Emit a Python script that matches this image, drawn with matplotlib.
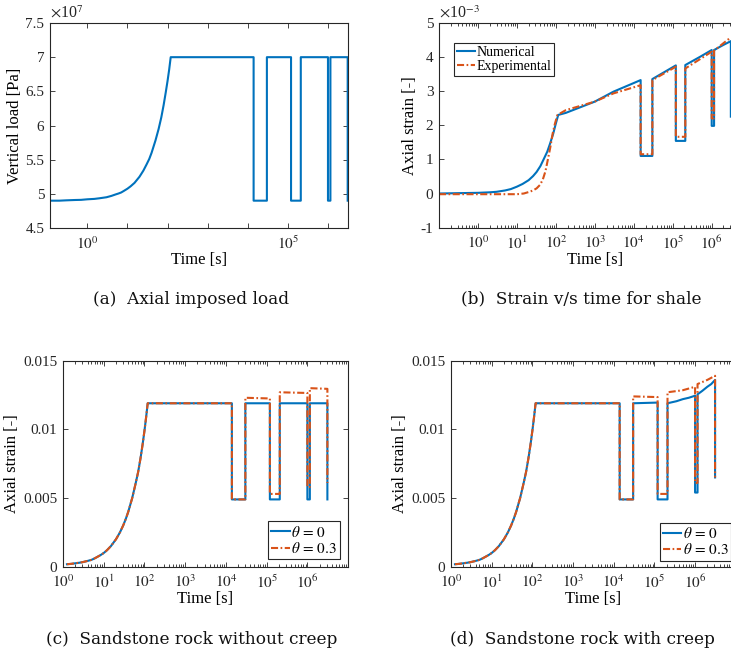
import matplotlib
matplotlib.use("Agg")
import matplotlib.pyplot as plt
from matplotlib.ticker import FixedLocator, FixedFormatter, LogLocator, NullFormatter, NullLocator

plt.rcParams['font.family'] = ['Liberation Serif', 'DejaVu Serif']
plt.rcParams['mathtext.fontset'] = 'stix'
plt.rcParams['font.size'] = 11

BLUE = '#0072BD'
ORANGE = '#D95319'
DASHDOT = (0, (3.4, 1.2, 0.8, 1.2))

# (a) imposed load, in 1e7 Pa
t_load = [0.116, 0.2, 0.3, 0.5, 0.7, 1, 1.5, 2, 3, 4, 5, 6, 7, 8, 10, 12, 15, 20, 25, 30, 35, 40,
          50, 60, 70, 80, 90, 100, 110, 120,
          1.4e4, 1.4e4, 3e4, 3e4, 1.2e5, 1.2e5, 2.1e5, 2.1e5, 1e6, 1e6, 1.15e6, 1.15e6, 3.1e6, 3.1e6]
load = [4.90, 4.90, 4.905, 4.91, 4.912, 4.92, 4.926, 4.935, 4.95, 4.97, 4.99, 5.005, 5.02, 5.04,
        5.075, 5.11, 5.16, 5.25, 5.34, 5.43, 5.51, 5.60, 5.78, 5.95, 6.12, 6.30, 6.48, 6.65, 6.82, 7.0,
        7.0, 4.9, 4.9, 7.0, 7.0, 4.9, 4.9, 7.0, 7.0, 4.9, 4.9, 7.0, 7.0, 4.9]

# (b) shale strain, in 1e-3
t_num = [0.1, 0.3, 1, 2, 3, 5, 7, 10, 14, 20, 26, 32, 40, 50, 60, 71, 85, 100, 115, 180, 1000, 3000,
         1.5e4, 1.5e4, 3e4, 3e4, 6e4, 1.2e5, 1.2e5, 2.1e5, 2.1e5, 5e5, 1e6, 1e6, 1.15e6, 1.15e6,
         2e6, 3.1e6, 3.1e6]
strain_num = [0.0, 0.01, 0.02, 0.035, 0.05, 0.09, 0.13, 0.2, 0.28, 0.39, 0.51, 0.63, 0.8, 1.03, 1.22,
              1.46, 1.74, 2.05, 2.3, 2.36, 2.69, 2.98, 3.32, 1.10, 1.10, 3.35, 3.55, 3.75, 1.54, 1.54,
              3.76, 4.0, 4.2, 1.98, 1.98, 4.2, 4.35, 4.46, 2.25]
t_exp = [0.1, 1, 10, 15, 21, 26, 32, 39, 46, 54, 62, 72, 83, 95, 110, 180, 1000, 3000,
         1.5e4, 1.5e4, 3e4, 3e4, 1.2e5, 1.2e5, 2.1e5, 2.1e5, 1e6, 1e6, 1.15e6, 1.15e6, 2e6, 3.1e6]
strain_exp = [-0.02, -0.02, -0.02, 0.0, 0.05, 0.09, 0.15, 0.25, 0.4, 0.65, 0.98, 1.35, 1.76, 2.05,
              2.3, 2.44, 2.69, 2.93, 3.17, 1.15, 1.15, 3.32, 3.71, 1.66, 1.66, 3.66, 4.15, 2.2, 2.2,
              4.18, 4.4, 4.57]

# (c)/(d) sandstone, common loading ramp
t_ramp = [1.25, 1.6, 2, 2.5, 3, 4, 5, 6, 7, 8.5, 10, 12, 15, 20, 25, 30, 35, 40, 50, 60, 70, 80,
          90, 100, 110, 120]
strain_ramp = [0.00018, 0.00021, 0.00025, 0.00029, 0.00033, 0.00042, 0.0005, 0.00061, 0.00072,
               0.00086, 0.001, 0.0012, 0.0015, 0.002, 0.0025, 0.003, 0.0035, 0.004, 0.005, 0.006,
               0.0069, 0.0079, 0.0089, 0.0099, 0.0109, 0.0119]

t_c0 = [1.4e4, 1.4e4, 3e4, 3e4, 1.2e5, 1.2e5, 2.1e5, 2.1e5, 1e6, 1e6, 1.15e6, 1.15e6, 3.1e6, 3.1e6]
strain_c0 = [0.0119, 0.0049, 0.0049, 0.0119, 0.0119, 0.0049, 0.0049, 0.0119, 0.0119, 0.0049,
             0.0049, 0.0119, 0.0119, 0.0049]
t_c3 = [1.4e4, 1.4e4, 3e4, 3e4, 1.2e5, 1.2e5, 2.1e5, 2.1e5, 1e6, 1e6, 1.15e6, 1.15e6, 3.1e6, 3.1e6]
strain_c3 = [0.0119, 0.0049, 0.0049, 0.0123, 0.01225, 0.0053, 0.0053, 0.0127, 0.01265, 0.0058,
             0.0058, 0.0130, 0.01295, 0.0061]

t_d0 = [1.4e4, 1.4e4, 3e4, 3e4, 1.2e5, 1.2e5, 2.1e5, 2.1e5, 3.5e5, 5e5, 7e5, 1e6, 1e6, 1.15e6,
        1.15e6, 1.5e6, 2e6, 2.5e6, 3.1e6, 3.1e6]
strain_d0 = [0.0119, 0.0049, 0.0049, 0.0119, 0.01195, 0.0049, 0.0049, 0.0119, 0.01205, 0.0122,
             0.0123, 0.01245, 0.0054, 0.0054, 0.01255, 0.0128, 0.0131, 0.0133, 0.0136, 0.0065]
t_d3 = [1.4e4, 1.4e4, 3e4, 3e4, 1.2e5, 1.2e5, 2.1e5, 2.1e5, 5e5, 1e6, 1e6, 1.15e6, 1.15e6,
        2e6, 3.1e6, 3.1e6]
strain_d3 = [0.0119, 0.0049, 0.0049, 0.0124, 0.01235, 0.0053, 0.0053, 0.0127, 0.01285, 0.0131,
             0.0061, 0.0061, 0.0133, 0.0136, 0.0139, 0.0065]

decades = [1e0, 1e1, 1e2, 1e3, 1e4, 1e5, 1e6]
dec_labels = [r'$10^{%d}$' % k for k in range(7)]


def style(ax, minor=True):
    ax.set_xscale('log')
    for s in ax.spines.values():
        s.set_linewidth(0.8)
        s.set_color('#262626')
    ax.tick_params(which='both', direction='in', top=True, right=True, colors='#262626',
                   labelsize=11, width=0.6)
    ax.tick_params(which='major', length=3.5)
    ax.tick_params(axis='x', which='major', pad=5)
    ax.tick_params(axis='y', which='major', pad=4)
    ax.tick_params(which='minor', length=2)
    if minor:
        ax.xaxis.set_minor_locator(LogLocator(base=10, subs=range(2, 10), numticks=20))
        ax.xaxis.set_minor_formatter(NullFormatter())
    else:
        ax.xaxis.set_minor_locator(NullLocator())
    ax.set_xlabel('Time [s]', fontsize=12, labelpad=0)


def series(t1, y1, t2, y2):
    return list(t1) + list(t2), list(y1) + list(y2)


def frame(leg):
    leg.get_frame().set_edgecolor('#262626')
    leg.get_frame().set_linewidth(0.8)


fig = plt.figure(figsize=(7.31, 6.52), dpi=100)

# (a)
ax = fig.add_axes([0.0684, 0.6503, 0.4077, 0.3144])
style(ax, minor=False)
ax.plot(t_load, load, color=BLUE, lw=1.5)
ax.set_xlim(10 ** -0.93, 10 ** 6.5)
ax.set_ylim(4.5, 7.5)
ax.xaxis.set_major_locator(FixedLocator(decades))
ax.xaxis.set_major_formatter(FixedFormatter(['$10^{0}$', '', '', '', '', '$10^{5}$', '']))
ax.set_yticks([4.5, 5, 5.5, 6, 6.5, 7, 7.5])
ax.set_yticklabels(['4.5', '5', '5.5', '6', '6.5', '7', '7.5'])
ax.set_ylabel('Vertical load [Pa]', fontsize=12, labelpad=2)
ax.text(0.0, 1.005, r'$\times$10$^{7}$', transform=ax.transAxes, ha='left', va='bottom',
        fontsize=11.5, color='#262626')

# (b)
ax = fig.add_axes([0.6005, 0.6508, 0.4264, 0.3144])
style(ax)
ax.plot(t_num, strain_num, color=BLUE, lw=1.5, label='Numerical')
ax.plot(t_exp, strain_exp, color=ORANGE, lw=1.5, linestyle=DASHDOT, label='Experimental')
ax.set_xlim(0.1, 1e7)
ax.set_ylim(-1, 5)
ax.xaxis.set_major_locator(FixedLocator(decades))
ax.xaxis.set_major_formatter(FixedFormatter(dec_labels))
ax.set_yticks([-1, 0, 1, 2, 3, 4, 5])
ax.set_yticklabels(['-1', '0', '1', '2', '3', '4', '5'])
ax.set_ylabel('Axial strain [-]', fontsize=12, labelpad=2)
ax.text(0.0, 1.005, r'$\times$10$^{-3}$', transform=ax.transAxes, ha='left', va='bottom',
        fontsize=11.5, color='#262626')
frame(ax.legend(loc='upper left', bbox_to_anchor=(0.048, 0.901), borderaxespad=0,
                fontsize=10, handlelength=1.3, handletextpad=0.1, borderpad=0.2,
                labelspacing=0.1, fancybox=False, framealpha=1))

# (c) and (d)
panels = [
    ([0.0862, 0.1308, 0.3900, 0.3160], t_c0, strain_c0, t_c3, strain_c3, (0.972, 0.037)),
    ([0.6170, 0.1308, 0.3895, 0.3160], t_d0, strain_d0, t_d3, strain_d3, (0.985, 0.03)),
]
for rect, ta, ya, tb, yb, anchor in panels:
    ax = fig.add_axes(rect)
    style(ax)
    x0, y0 = series(t_ramp, strain_ramp, ta, ya)
    x3, y3 = series(t_ramp, strain_ramp, tb, yb)
    ax.plot(x0, y0, color=BLUE, lw=1.5, label=r'$\theta\,=\,0$')
    ax.plot(x3, y3, color=ORANGE, lw=1.5, linestyle=DASHDOT, label=r'$\theta\,=\,0.3$')
    ax.set_xlim(1, 1e7)
    ax.set_ylim(0, 0.015)
    ax.xaxis.set_major_locator(FixedLocator(decades))
    ax.xaxis.set_major_formatter(FixedFormatter(dec_labels))
    ax.set_yticks([0, 0.005, 0.01, 0.015])
    ax.set_yticklabels(['0', '0.005', '0.01', '0.015'])
    ax.set_ylabel('Axial strain [-]', fontsize=12, labelpad=2)
    frame(ax.legend(loc='lower right', bbox_to_anchor=anchor, borderaxespad=0,
                    fontsize=11, handlelength=1.2, handletextpad=0.1, borderpad=0.2,
                    labelspacing=0.1, fancybox=False, framealpha=1))

cap = dict(ha='center', va='center', family='DejaVu Serif', fontsize=12.2, color='#111111')
fig.text(191 / 731, 1 - 299 / 652, '(a)  Axial imposed load', **cap)
fig.text(581 / 731, 1 - 299 / 652, '(b)  Strain v/s time for shale', **cap)
fig.text(191.5 / 731, 1 - 639 / 652, '(c)  Sandstone rock without creep', **cap)
fig.text(582 / 731, 1 - 639 / 652, '(d)  Sandstone rock with creep', **cap)

fig.savefig('out.png', dpi=100)
